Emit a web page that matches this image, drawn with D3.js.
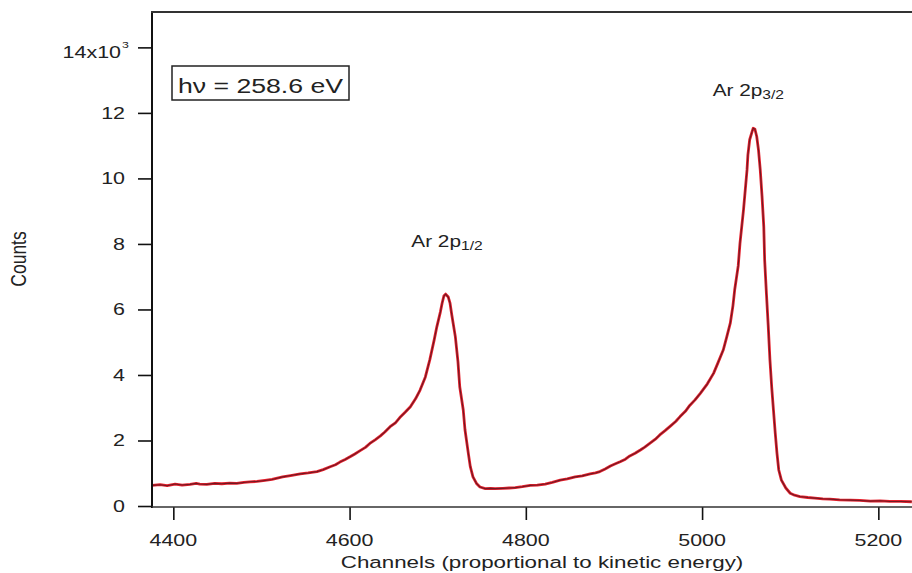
<!DOCTYPE html>
<html><head><meta charset="utf-8">
<script src="https://cdn.jsdelivr.net/npm/d3@7"></script>
<style>html,body{margin:0;padding:0;background:#fff;}svg{display:block;font-family:"Liberation Sans",Arial,sans-serif;}</style>
</head><body>
<svg id="chart" width="912" height="573"></svg>
<script>
// Channel numbers (x) and counts (y)
const channels = [4376,4385,4393,4402,4410,4419,4426,4430,4438,4447,4455,4464,4472,4480,4487,4495,4504,4512,4524,4533,4544,4553,4563,4570,4578,4584,4589,4595,4601,4606,4612,4618,4623,4629,4635,4640,4646,4652,4657,4663,4669,4675,4680,4686,4691,4696,4699,4703,4705,4707,4709,4712,4714,4716,4720,4723,4725,4729,4731,4735,4737,4740,4744,4748,4754,4760,4765,4774,4781,4788,4796,4805,4813,4822,4830,4839,4847,4856,4864,4873,4879,4884,4890,4896,4901,4907,4913,4918,4924,4930,4935,4941,4947,4952,4958,4964,4970,4975,4981,4986,4992,4998,5006,5013,5018,5024,5028,5032,5035,5037,5041,5043,5047,5051,5052,5054,5057,5058,5060,5062,5064,5066,5068,5070,5071,5073,5075,5077,5079,5081,5083,5085,5087,5090,5095,5100,5105,5111,5120,5128,5137,5145,5156,5168,5179,5191,5202,5213,5225,5238];
const counts = [630,650,620,670,640,660,690,670,660,690,680,700,690,720,740,750,780,810,890,930,980,1010,1050,1110,1200,1260,1340,1420,1510,1590,1690,1790,1910,2020,2140,2260,2420,2540,2700,2860,3030,3280,3540,3940,4460,5070,5470,5920,6190,6410,6470,6380,6190,5830,5170,4400,3640,2930,2320,1560,1200,890,690,580,530,540,530,540,550,560,590,630,640,670,720,790,830,890,920,980,1010,1050,1130,1220,1280,1350,1430,1530,1610,1710,1800,1920,2040,2170,2300,2440,2580,2730,2890,3070,3240,3440,3730,4050,4370,4760,5160,5580,6110,6600,7330,8020,9040,10260,10720,11180,11450,11530,11500,11280,10870,10260,9470,8530,7510,6490,5530,4460,3630,2930,2230,1610,1100,790,550,390,330,290,260,240,220,210,190,180,170,150,160,140,140,130];
const xTicks = [4400,4600,4800,5000,5200];
const yTicks = [0,2,4,6,8,10,12,14];
const xTitle = "Channels (proportional to kinetic energy)";
const yTitle = "Counts";
const boxLabel = "hν = 258.6 eV";
const peakLabels = [{main:"Ar 2p", sub:"1/2", ch:4670, c:7920}, {main:"Ar 2p", sub:"3/2", ch:5012, c:12520}];

const svg = d3.select("#chart");
const L = 152, R = 912, T = 12, B = 507;
const SX = 1.3; // horizontal stretch of all lettering
const x = d3.scaleLinear().domain([4375.8, 5238.2]).range([L, R]);
const y = d3.scaleLinear().domain([-0.03, 15.08]).range([B, T]);

function label(px, py, size, anchor, rot) {
  return svg.append("text")
    .attr("transform", `translate(${px},${py}) scale(${SX},1)` + (rot ? ` rotate(${rot})` : ""))
    .attr("text-anchor", anchor).attr("fill", "#222").style("font-size", size + "px");
}

const data = channels.map((c,i)=>({c, v: counts[i]/1000}));
const line = d3.line().x(d=>x(d.c)).y(d=>y(d.v));

svg.append("clipPath").attr("id","clip").append("rect")
  .attr("x",L).attr("y",T).attr("width",R-L).attr("height",B-T);
const g = svg.append("g").attr("clip-path","url(#clip)");
g.append("path").datum(data).attr("d",line).attr("fill","none")
  .attr("stroke","#e5202c").attr("stroke-width",2.8).attr("stroke-linejoin","round");
g.append("path").datum(data).attr("d",line).attr("fill","none")
  .attr("stroke","#5a1822").attr("stroke-width",1.1).attr("stroke-opacity",0.85).attr("stroke-linejoin","round");

// axes (tick marks from d3 axes, labels drawn stretched)
const ya = svg.append("g").attr("transform",`translate(${L},0)`)
  .call(d3.axisLeft(y).tickValues(yTicks).tickSize(14).tickFormat(""));
const xa = svg.append("g").attr("transform",`translate(0,${B})`)
  .call(d3.axisBottom(x).tickValues(xTicks).tickSize(13).tickFormat(""));
[ya,xa].forEach(a=>{
  a.select(".domain").remove();
  a.selectAll(".tick line").attr("stroke","#111").attr("stroke-width",1.6);
});
yTicks.forEach(v=>{
  if (v === 14) return;
  label(L-27, y(v)+6, 16.5, "end").text(d3.format("d")(v));
});
label(L-31, y(14)+11, 16.5, "end").text("14x10");
label(L-30, y(14)+1, 9.5, "start").text("3");
xTicks.forEach(v=>{
  label(x(v), 546, 16.5, "middle").text(d3.format("d")(v));
});

// frame lines
svg.append("line").attr("x1",L).attr("x2",L).attr("y1",T).attr("y2",B+1).attr("stroke","#111").attr("stroke-width",2);
svg.append("line").attr("x1",L).attr("x2",R).attr("y1",B).attr("y2",B).attr("stroke","#333").attr("stroke-width",1.6);
svg.append("line").attr("x1",L-1).attr("x2",R).attr("y1",T).attr("y2",T).attr("stroke","#333").attr("stroke-width",2.2);

// titles
label(542, 568, 17.2, "middle").text(xTitle);
label(26, 259, 17.5, "middle", -90).text(yTitle);

// box label
svg.append("rect").attr("x",172).attr("y",66).attr("width",177).attr("height",34)
  .attr("fill","#fff").attr("stroke","#222").attr("stroke-width",1.5);
label(260.5, 93, 20.5, "middle").text(boxLabel);

// peak labels
peakLabels.forEach(p=>{
  const t = label(x(p.ch), y(p.c/1000), 16, "start");
  t.append("tspan").text(p.main);
  t.append("tspan").text(p.sub).attr("dy",3).style("font-size","12px");
});
</script>
</body></html>
